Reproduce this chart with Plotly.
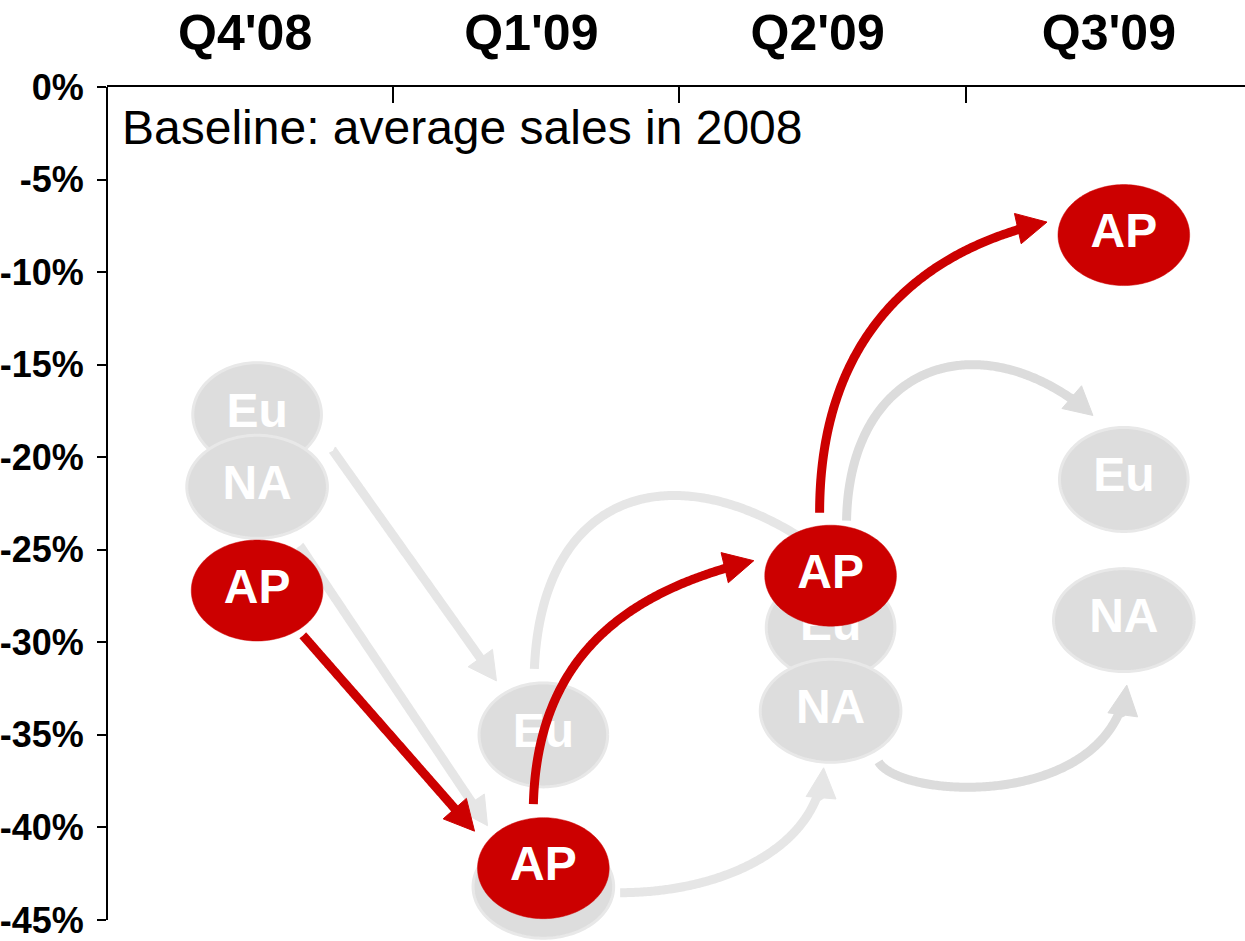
import numpy as np
import plotly.graph_objects as go

# ---- data: sales change vs. 2008 average, by region and quarter (%) ----
quarters = ["Q4'08", "Q1'09", "Q2'09", "Q3'09"]
ap_change = [-27.2, -42.2, -26.4, -8.0]
eu_change = [-17.7, -35.0, -29.2, -21.2]
na_change = [-21.6, -43.2, -33.7, -28.8]
y_ticks = [0, -5, -10, -15, -20, -25, -30, -35, -40, -45]
y_tick_text = ["0%", "-5%", "-10%", "-15%", "-20%", "-25%", "-30%", "-35%", "-40%", "-45%"]
baseline_note = "Baseline: average sales in 2008"

# ---- layout geometry (pixels) ----
W, H = 1245, 941
L, T, B = 104, 87, 0
PX_PER_Q = 287.0              # width of one quarter band
PX_PER_PCT = 833.0 / 45.0     # vertical pixels per percentage point
X_RANGE = [-0.5, -0.5 + (W - L) / PX_PER_Q]
Y_RANGE = [-(H - B - T) / PX_PER_PCT, 0]
COL_NUDGE = [7, 7, 8, 15]     # horizontal nudge of the bubbles in each column
LABEL_NUDGE = [-5, -5, -5, 0]  # horizontal nudge of the quarter headings

RED = "#CC0000"
GREY_FILL = "#DDDDDD"
GREY_EDGE = "#E8E8E8"
ARROW_LIGHT = "#E6E6E6"
ARROW_MID = "#DCDCDC"

BOLD = "Liberation Sans, Arial, sans-serif"
NARROW = "Liberation Sans Narrow, Arial Narrow, Liberation Sans, Arial, sans-serif"

series = {"AP": ap_change, "Eu": eu_change, "NA": na_change}
bubble_size = {"AP": (132, 101), "Eu": (132, 107), "NA": (144, 106)}


def to_x(px):
    return X_RANGE[0] + (px - L) / PX_PER_Q


def to_y(py):
    return -(py - T) / PX_PER_PCT


def center_px(name, i):
    cx = L + (i + 0.5) * PX_PER_Q + COL_NUDGE[i]
    cy = T - series[name][i] * PX_PER_PCT
    return np.array([cx, cy])


fig = go.Figure()


def add_bubble(name, i, fill, edge, edge_w, label=True):
    c = center_px(name, i)
    w, h = bubble_size[name]
    t = np.linspace(0, 2 * np.pi, 181)
    rx, ry = w / 2 - edge_w / 2, h / 2 - edge_w / 2
    fig.add_trace(go.Scatter(
        x=to_x(c[0] + rx * np.cos(t)), y=to_y(c[1] + ry * np.sin(t)),
        mode="lines", fill="toself", fillcolor=fill,
        line=dict(color=edge, width=edge_w if edge_w else 0.5, simplify=False),
        hoverinfo="skip", showlegend=False))
    if label:
        fig.add_trace(go.Scatter(
            x=[to_x(c[0])], y=[to_y(c[1])], mode="text", text=[name],
            textposition="middle center",
            textfont=dict(family=BOLD, size=48, color="white", weight="bold"),
            hoverinfo="skip", showlegend=False, cliponaxis=False))


def add_arrow(src, dst, start_off, c1_off, c2_off, tip_off, color,
              width=9, head_len=30, head_w=31):
    p0 = center_px(*src) + np.array(start_off, float)
    p3 = center_px(*dst) + np.array(tip_off, float)
    c1 = p0 + np.array(c1_off, float)
    c2 = p3 + np.array(c2_off, float)
    t = np.linspace(0, 1, 200)[:, None]
    pts = ((1 - t) ** 3) * p0 + 3 * ((1 - t) ** 2) * t * c1 + 3 * (1 - t) * t ** 2 * c2 + t ** 3 * p3
    d = p3 - (c2 if np.linalg.norm(p3 - c2) > 1e-6 else p0)
    d = d / np.linalg.norm(d)
    n = np.array([-d[1], d[0]])
    base = p3 - d * head_len
    dist = np.linalg.norm(pts - p3, axis=1)
    line_pts = np.vstack([pts[dist > head_len], base + d * 3])
    fig.add_trace(go.Scatter(
        x=to_x(line_pts[:, 0]), y=to_y(line_pts[:, 1]), mode="lines",
        line=dict(color=color, width=width, simplify=False),
        hoverinfo="skip", showlegend=False))
    head = np.array([p3, base + n * head_w / 2, base - n * head_w / 2, p3])
    fig.add_trace(go.Scatter(
        x=to_x(head[:, 0]), y=to_y(head[:, 1]), mode="lines", fill="toself",
        fillcolor=color, line=dict(color=color, width=1),
        hoverinfo="skip", showlegend=False))


# grey (Eu / NA) transitions, drawn underneath everything
add_arrow(("Eu", 0), ("Eu", 1), (76, 36), (0, 0), (0, 0), (-47, -54), ARROW_LIGHT, head_len=28, head_w=30)
add_arrow(("NA", 0), ("NA", 1), (43, 59), (0, 0), (0, 0), (-56, -61), ARROW_LIGHT, head_len=28, head_w=30)
add_arrow(("Eu", 1), ("Eu", 2), (-9, -66), (8, -190), (-145, -115), (5, -65), ARROW_LIGHT, head_len=28, head_w=30)
add_arrow(("NA", 1), ("NA", 2), (77, 6), (100, 0), (-7, 82), (-7, 57), ARROW_LIGHT, head_len=30, head_w=30)
add_arrow(("Eu", 2), ("Eu", 3), (16, -107), (3, -160), (-110, -95), (-31, -64), ARROW_MID, head_len=28, head_w=30)
add_arrow(("NA", 2), ("NA", 3), (48, 51), (23, 38), (-17, 125), (3, 65), ARROW_MID, head_len=30, head_w=30)

# grey bubbles (later ones overlap earlier ones); the Q1'09 NA bubble sits under AP
for i in range(4):
    add_bubble("Eu", i, GREY_FILL, GREY_EDGE, 3)
    add_bubble("NA", i, GREY_FILL, GREY_EDGE, 3, label=(i != 1))

# red (AP) transitions
add_arrow(("AP", 0), ("AP", 1), (46, 45), (0, 0), (0, 0), (-69, -37), RED)
add_arrow(("AP", 1), ("AP", 2), (-10, -64), (4, -150), (-125, 30), (-77, -15), RED)
add_arrow(("AP", 2), ("AP", 3), (-11, -63), (0, -170), (-135, 30), (-77, -13), RED)

for i in range(4):
    add_bubble("AP", i, RED, RED, 0)

fig.add_annotation(
    text=baseline_note, xref="paper", yref="y", x=(117 - L) / (W - L), y=to_y(127),
    xanchor="left", yanchor="middle", showarrow=False,
    font=dict(family=BOLD, size=48, color="black"))

# y-axis spine only from 0% down to -45%
fig.add_shape(type="line", xref="paper", yref="y", x0=0, x1=0, y0=-45, y1=0,
              line=dict(color="black", width=2), layer="above")

quarter_pos = [i + LABEL_NUDGE[i] / PX_PER_Q for i in range(len(quarters))]

fig.update_layout(
    width=W, height=H, margin=dict(l=L, r=0, t=T, b=B, pad=0),
    paper_bgcolor="white", plot_bgcolor="white", showlegend=False,
    xaxis=dict(
        range=X_RANGE, side="top", showgrid=False, zeroline=False,
        showline=True, linecolor="black", linewidth=2,
        tickmode="array", tickvals=quarter_pos, ticktext=quarters,
        ticks="", ticklabelstandoff=15,
        tickfont=dict(family=BOLD, size=50, color="black", weight="bold"),
        minor=dict(tickmode="array", tickvals=[0.5, 1.5, 2.5], ticks="inside",
                   ticklen=16, tickwidth=2, tickcolor="black"),
        fixedrange=True),
    yaxis=dict(
        range=Y_RANGE, showgrid=False, zeroline=False, showline=False,
        tickmode="array", tickvals=y_ticks, ticktext=y_tick_text,
        ticks="outside", ticklen=9, tickwidth=2, tickcolor="black",
        ticklabelstandoff=6,
        tickfont=dict(family=NARROW, size=36, color="black", weight="bold"),
        fixedrange=True),
)

fig.write_html("out.html")
